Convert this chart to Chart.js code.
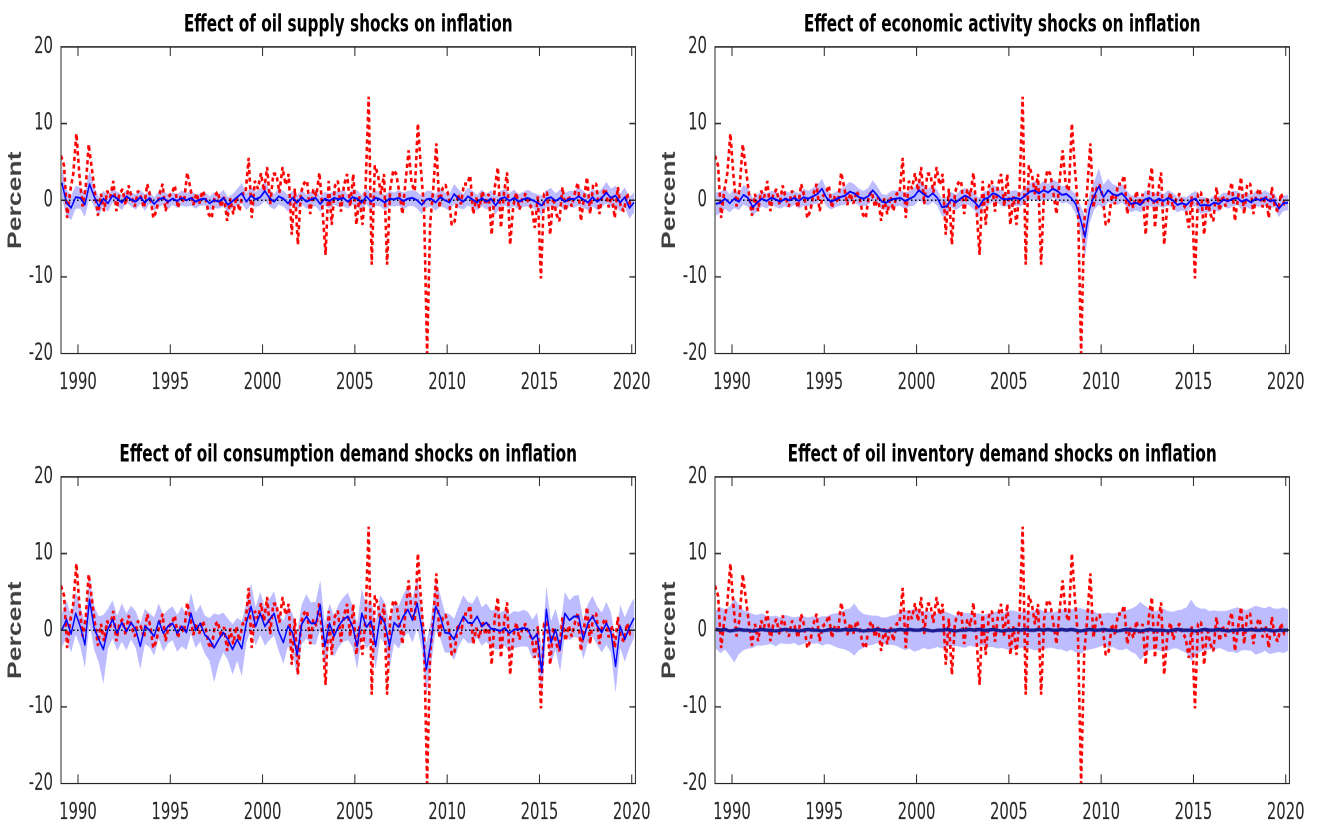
<!DOCTYPE html>
<html>
<head>
<meta charset="utf-8">
<script src="https://cdn.jsdelivr.net/npm/chart.js@4.4.1/dist/chart.umd.min.js"></script>
<style>
    html, body { margin: 0; padding: 0; background: #fff; width: 1324px; height: 830px; overflow: hidden; }
    /* the source figure is stretched vertically, so each panel is drawn flat and scaled */
    .panel { position: absolute; width: 662px; height: 296px; transform: scaleY(1.4); transform-origin: 0 0; }
</style>
</head>
<body>
<div class="panel" style="left:0;top:0"><canvas id="supplyChart" width="662" height="296"></canvas></div>
<div class="panel" style="left:654px;top:0"><canvas id="activityChart" width="662" height="296"></canvas></div>
<div class="panel" style="left:0;top:430px"><canvas id="consumptionChart" width="662" height="296"></canvas></div>
<div class="panel" style="left:654px;top:430px"><canvas id="inventoryChart" width="662" height="296"></canvas></div>
<script>
// Axis ranges and tick labels
const X_MIN = 1989.08;
const X_MAX = 2020.2;
const yearTicks = [1990, 1995, 2000, 2005, 2010, 2015, 2020];
const percentTicks = [-20, -10, 0, 10, 20];

// Inflation (red dotted), every two months from Feb 1989
const RED_START = 1989.08;
const inflation = [
    5.8, 4.5, -2.3, 1.2, 3.5, 8.7,      // 1989
    3.2, -0.8, 1.5, 7.3, 4.2, 1.0,      // 1990
    -2.0, 0.8, -1.4, 1.2, 0.4, 2.5,     // 1991
    -1.4, 0.9, 1.4, -0.6, 1.9, 0.3,     // 1992
    -0.8, 1.2, 0.4, -1.0, 2.1, 0.6,     // 1993
    -2.3, -1.4, 0.8, 2.1, -1.4, 0.5,    // 1994
    0.9, 1.9, -1.0, 0.6, -0.3, 3.6,     // 1995
    1.7, -0.6, 0.9, -0.4, 1.2, 0.3,     // 1996
    -1.8, -2.3, 0.6, 1.1, -0.9, 0.4,    // 1997
    -2.7, 0.2, -1.8, 0.5, -1.4, 0.8,    // 1998
    1.0, 5.5, -2.3, 2.5, 1.5, 3.5,      // 1999
    1.2, 4.3, -0.5, 3.4, 3.4, 1.0,      // 2000
    4.3, 2.0, 3.4, -4.5, 1.5, -5.8,     // 2001
    1.0, 2.2, 2.5, -1.8, 1.4, 0.6,      // 2002
    3.6, -1.2, -7.1, 2.5, -3.2, 1.8,    // 2003
    2.5, -1.5, 2.0, 3.4, -0.8, 3.4,     // 2004
    -3.2, 0.5, -3.2, 1.7, 13.5, -8.4,   // 2005
    4.5, 3.4, 0.8, 3.4, -8.4, 1.5,      // 2006
    3.9, 3.4, 0.9, -1.8, 2.5, 6.5,      // 2007
    2.1, 1.2, 10.0, 4.0, -1.0, -20.0,   // 2008
    -3.0, 1.5, 7.4, -1.0, 1.5, 2.0,     // 2009
    0.5, -3.2, -2.7, 0.8, -0.5, 2.1,    // 2010
    2.1, 3.2, -1.8, 0.3, -1.0, 1.2,     // 2011
    -0.6, 0.8, -4.5, 1.7, 4.3, -3.6,    // 2012
    1.0, 3.6, -5.8, -0.8, 1.0, -1.2,    // 2013
    0.3, 0.8, -0.4, -1.0, -3.6, 0.5,    // 2014
    -10.2, 0.8, 1.0, -4.5, 0.4, -1.8,   // 2015
    -2.7, 1.7, -1.4, 0.6, -0.8, 0.9,    // 2016
    2.3, -2.7, 0.3, 3.0, -1.8, 2.1,     // 2017
    2.1, -1.8, 0.8, 1.5, -0.9, 0.6,     // 2018
    -2.3, 1.7, -1.0, -1.4, 0.9, -0.5,   // 2019
    -0.5                                // 2020
];

// Estimated effects (blue) and band half-widths, quarterly from 1989 Q1
const Q_START = 1989.125;
const supplyMean = [
    2.3, -0.3, -1.0, 0.4,   0.3, -0.6, 2.1, 0.5,   -0.8, 0.2, -0.4, 0.6,   0.2, -0.3, 0.5, 0.1,
    -0.2, 0.4, -0.3, 0.3,   -0.5, 0.1, 0.3, -0.2,  0.2, -0.1, 0.3, 0.0,    0.3, -0.2, 0.1, 0.2,
    -0.4, 0.0, -0.2, 0.3,   -0.6, -0.1, 0.4, 0.9,  -0.2, 0.6, 0.1, 0.4,    1.2, 0.3, -0.2, 0.5,
    0.2, -0.4, 0.3, -0.3,   0.4, -0.2, 0.1, 0.3,   -0.5, 0.2, -0.1, 0.3,   0.1, 0.3, -0.2, 0.4,
    0.2, -0.3, 0.5, -0.2,   0.3, 0.1, -0.3, 0.2,   0.1, 0.3, -0.1, 0.2,    0.3, 0.0, -0.6, 0.1,
    0.2, -0.3, 0.4, 0.0,    -0.3, 0.8, 0.2, -0.2,  0.5, 0.1, -0.3, 0.3,    -0.2, 0.2, -0.7, 0.2,
    0.4, -0.1, 0.3, -0.2,   0.1, 0.3, 0.0, -0.3,   -0.7, 0.2, 0.4, -0.1,   0.3, -0.2, 0.2, 0.1,
    0.5, 0.1, -0.3, 0.4,    -0.2, 0.3, 1.0, 0.3,   0.6, -0.3, 0.4, -1.0,   -0.3
];
const supplyBand = [
    2.0, 1.7, 1.6, 1.5,   1.4, 1.6, 1.8, 1.3,   1.2, 1.0, 1.1, 0.9,   0.9, 1.0, 0.8, 0.9,
    1.0, 0.9, 1.1, 0.8,   0.9, 1.0, 0.9, 1.0,   0.8, 0.9, 1.0, 0.9,   1.0, 0.9, 0.8, 0.9,
    0.9, 1.0, 0.9, 1.1,   1.0, 0.9, 1.1, 1.3,   1.1, 1.2, 1.0, 1.1,   1.3, 1.1, 1.0, 1.1,
    1.0, 1.1, 0.9, 1.0,   1.0, 0.9, 1.0, 1.1,   1.0, 0.9, 1.0, 0.9,   1.0, 1.1, 0.9, 1.0,
    1.1, 1.0, 1.0, 1.1,   1.0, 0.9, 1.0, 1.0,   0.9, 1.0, 1.1, 1.0,   1.0, 1.1, 1.2, 1.1,
    1.0, 1.1, 1.2, 1.0,   1.1, 1.3, 1.2, 1.0,   1.2, 1.1, 1.0, 1.1,   1.0, 1.1, 1.2, 1.0,
    1.1, 1.0, 1.1, 1.0,   1.0, 1.1, 1.0, 1.1,   1.3, 1.1, 1.2, 1.0,   1.1, 1.2, 1.0, 1.1,
    1.2, 1.1, 1.0, 1.2,   1.1, 1.2, 1.4, 1.2,   1.3, 1.2, 1.3, 1.4,   1.3
];
const activityMean = [
    -0.5, -0.3, 0.2, -0.4,  0.2, -0.2, 0.7, 0.3,   -0.9, -0.3, 0.2, -0.1,  0.3, 0.1, -0.2, 0.2,
    0.0, 0.3, -0.1, 0.4,    0.2, 0.5, 0.8, 1.5,    0.3, -0.2, 0.1, 0.4,    0.6, 1.1, 0.9, 0.4,
    0.2, 0.5, 1.3, 0.6,     -0.2, -0.3, 0.1, 0.2,  0.3, -0.1, 0.2, 0.5,    1.3, 0.8, 0.4, 0.9,
    0.3, -0.9, -0.8, 0.1,   -0.3, 0.2, 0.6, 0.3,   -0.2, -0.9, 0.1, 0.3,   0.9, 0.7, 0.2, 0.1,
    0.2, 0.3, 0.1, 0.6,     1.1, 1.3, 0.9, 1.3,    1.0, 1.5, 1.2, 0.7,     0.8, 0.3, -0.5, -2.4,
    -4.8, -1.1, 0.6, 1.8,   0.4, 1.3, 0.8, 0.6,    0.9, 0.2, -0.5, -0.3,   -0.6, 0.1, 0.3, -0.2,
    0.2, -0.1, 0.3, 0.0,    -0.6, -0.4, -0.6, 0.0, 0.2, -0.7, -0.6, -0.7,  -0.3, -0.5, 0.1, -0.1,
    0.2, 0.3, -0.2, 0.1,    -0.3, 0.2, 0.0, 0.3,   -0.1, 0.0, -1.1, -0.4,  -0.3
];
const activityBand = [
    1.5, 1.4, 1.3, 1.2,   1.2, 1.1, 1.3, 1.2,   1.2, 1.1, 1.0, 1.0,   0.9, 1.0, 0.9, 1.0,
    1.0, 0.9, 1.0, 1.1,   1.0, 1.1, 1.2, 1.3,   1.1, 1.0, 1.0, 1.1,   1.2, 1.3, 1.2, 1.1,
    1.0, 1.1, 1.3, 1.2,   1.0, 1.0, 1.1, 1.0,   1.0, 1.1, 1.0, 1.2,   1.3, 1.2, 1.1, 1.1,
    1.0, 1.1, 1.2, 1.0,   1.0, 1.1, 1.0, 1.0,   1.1, 1.2, 1.0, 1.0,   1.1, 1.0, 1.0, 0.9,
    1.0, 1.0, 0.9, 1.0,   1.1, 1.2, 1.1, 1.2,   1.1, 1.2, 1.2, 1.1,   1.1, 1.0, 1.3, 1.8,
    2.6, 1.9, 1.8, 2.4,   1.6, 1.5, 1.3, 1.2,   1.2, 1.1, 1.1, 1.0,   1.0, 1.1, 1.0, 1.0,
    1.0, 0.9, 1.0, 1.0,   1.0, 0.9, 1.0, 0.9,   1.0, 1.1, 1.0, 0.9,   0.9, 1.0, 0.9, 1.0,
    1.0, 0.9, 1.0, 1.0,   0.9, 1.0, 0.9, 1.0,   1.0, 0.9, 1.1, 1.0,   1.0
];
const consumptionMean = [
    0.0, 1.4, -0.5, 2.2,    0.5, -1.9, 4.0, 0.3,   -1.2, -2.5, 0.2, 1.4,   -0.4, 1.0, -0.2, 1.0,
    0.1, -2.1, 0.5, 0.0,    -0.8, 1.2, -0.4, 0.5,  0.9, -0.4, 0.5, -0.3,   2.2, 0.0, 0.9, -0.6,
    -1.2, -2.3, -1.2, -0.3, -1.2, -2.5, -1.2, -2.4, 1.0, 3.1, 0.5, 2.2,    0.5, 1.4, 2.2, -0.2,
    -1.6, 0.5, -0.3, -3.2,  0.8, 1.8, 0.9, 0.9,    3.3, -2.1, 0.9, -0.8,   0.6, 1.4, 1.8, 0.5,
    -2.1, 2.2, 0.4, 1.2,    -2.1, 1.8, 0.9, -2.1,  1.0, 0.4, 1.8, 2.7,     1.3, 3.5, 0.3, -5.1,
    -1.5, 3.1, 1.8, -0.3,   -0.4, -1.2, 0.5, 1.8,  1.0, 0.9, 1.8, 0.5,     1.0, 0.2, 0.1, -0.1,
    0.3, -0.4, 0.1, 0.1,    0.3, 0.1, -1.2, -0.5,  -5.5, 2.7, -1.6, 0.1,   -2.5, 2.2, 1.3, 1.8,
    1.8, -1.2, 0.9, 1.8,    0.6, -0.3, 0.9, -0.3,  -4.7, 0.5, -1.2, 0.4,   1.6
];
const consumptionBand = [
    2.2, 2.5, 2.4, 2.8,   2.6, 3.0, 3.2, 2.8,   3.0, 4.5, 2.6, 2.5,   2.3, 2.5, 2.4, 2.2,
    2.4, 3.0, 2.3, 2.2,   2.5, 2.3, 2.4, 2.2,   2.2, 2.4, 2.6, 2.3,   2.7, 2.3, 2.4, 2.5,
    2.8, 4.5, 3.2, 2.6,   2.7, 3.3, 2.8, 3.6,   2.6, 3.0, 2.5, 2.8,   2.5, 2.7, 2.9, 2.5,
    2.8, 2.6, 2.5, 3.0,   2.6, 2.9, 2.7, 2.8,   3.2, 3.0, 2.6, 2.7,   2.8, 2.9, 3.1, 2.7,
    3.0, 3.2, 2.8, 2.9,   3.0, 2.8, 2.7, 3.0,   2.7, 2.8, 2.9, 3.0,   2.9, 3.2, 2.7, 3.4,
    3.0, 3.2, 2.9, 2.6,   2.5, 2.7, 2.6, 2.8,   2.7, 2.6, 2.8, 2.5,   2.5, 2.4, 2.6, 2.4,
    2.3, 2.5, 2.4, 2.3,   2.4, 2.3, 2.6, 2.8,   3.2, 3.0, 2.8, 2.7,   2.9, 2.8, 2.6, 2.7,
    2.8, 2.6, 2.5, 2.7,   2.5, 2.6, 2.8, 2.6,   3.5, 2.8, 2.9, 2.7,   2.6
];
const inventoryMean = [
    0.1, 0.0, 0.1, -0.1,   0.0, 0.1, 0.0, 0.0,   -0.1, 0.0, 0.1, 0.0,   0.0, -0.1, 0.0, 0.1,
    0.0, 0.0, -0.1, 0.0,   0.1, 0.0, 0.0, -0.1,  0.0, 0.1, 0.0, 0.0,    0.1, 0.0, 0.1, 0.0,
    -0.1, 0.0, 0.0, 0.1,   0.0, -0.1, 0.0, 0.0,  0.1, 0.0, 0.1, 0.0,    0.0, 0.1, 0.0, -0.1,
    0.0, 0.0, 0.1, 0.0,    -0.1, 0.0, 0.0, 0.1,  0.0, 0.1, 0.0, 0.0,    0.1, 0.0, -0.1, 0.0,
    0.0, 0.1, 0.0, 0.1,    0.0, 0.0, 0.1, 0.0,   0.1, 0.0, 0.0, 0.1,    0.0, 0.1, 0.0, -0.1,
    0.0, 0.1, 0.0, 0.0,    0.1, 0.0, 0.0, -0.1,  0.0, 0.1, 0.0, 0.0,    -0.1, 0.0, 0.1, 0.0,
    0.0, 0.0, -0.1, 0.0,   0.1, 0.0, 0.0, 0.0,   -0.1, 0.0, 0.1, 0.0,   0.0, 0.1, 0.0, -0.1,
    0.0, 0.0, 0.1, 0.0,    0.1, 0.0, 0.0, 0.1,   0.0, -0.1, 0.0, 0.0,   0.0
];
const inventoryBand = [
    2.5, 3.0, 2.6, 3.2,   4.2, 3.2, 2.6, 2.4,   2.2, 2.0, 2.1, 1.9,   1.8, 2.0, 1.7, 1.9,
    1.8, 1.7, 1.9, 1.8,   1.6, 1.8, 1.7, 1.9,   1.8, 2.0, 2.2, 2.4,   2.6, 2.8, 3.4, 2.6,
    2.2, 2.0, 1.9, 1.8,   1.7, 1.8, 1.9, 2.0,   2.4, 2.6, 2.5, 2.8,   2.6, 2.4, 2.5, 2.3,
    2.2, 2.4, 2.3, 2.1,   2.0, 2.2, 2.3, 2.1,   2.2, 2.1, 2.0, 2.2,   2.3, 2.4, 2.2, 2.5,
    2.6, 2.4, 2.3, 2.5,   2.4, 2.6, 2.7, 2.5,   2.4, 2.3, 2.5, 2.6,   2.8, 2.6, 2.9, 3.0,
    2.7, 2.6, 2.4, 2.2,   2.1, 2.3, 2.2, 2.4,   2.6, 2.5, 2.8, 3.1,   3.8, 3.2, 2.7, 2.5,
    2.6, 2.8, 2.6, 2.4,   2.5, 2.7, 3.0, 4.0,   3.2, 2.8, 2.7, 2.5,   2.6, 2.4, 2.5, 2.7,
    2.8, 3.0, 2.7, 2.6,   2.8, 3.2, 3.0, 2.8,   3.1, 2.9, 2.8, 3.0,   2.7
];

const NARROW = "'Liberation Sans Narrow', 'DejaVu Sans Condensed', 'Arial Narrow', sans-serif";
const REGULAR = "'Liberation Sans', Arial, sans-serif";
const INNER_H = 296;

// MATLAB-style box with inward tick marks on all four sides
const boxTicks = {
    id: 'boxTicks',
    afterDatasetsDraw(chart) {
        const { ctx, chartArea: a, scales: { x, y } } = chart;
        ctx.save();
        ctx.strokeStyle = '#262626';
        ctx.lineWidth = 1;
        ctx.beginPath();
        x.ticks.forEach(t => {
            const px = x.getPixelForValue(t.value);
            ctx.moveTo(px, a.bottom); ctx.lineTo(px, a.bottom - 6.5);
            ctx.moveTo(px, a.top); ctx.lineTo(px, a.top + 6.5);
        });
        y.ticks.forEach(t => {
            const py = y.getPixelForValue(t.value);
            ctx.moveTo(a.left, py); ctx.lineTo(a.left + 6, py);
            ctx.moveTo(a.right, py); ctx.lineTo(a.right - 6, py);
        });
        ctx.rect(a.left, a.top, a.right - a.left, a.bottom - a.top);
        ctx.stroke();
        ctx.restore();
    }
};

const panels = [
    { id: 'supplyChart', title: 'Effect of oil supply shocks on inflation', mean: supplyMean, band: supplyBand, color: '#0000ff', width: 1.4 },
    { id: 'activityChart', title: 'Effect of economic activity shocks on inflation', mean: activityMean, band: activityBand, color: '#0000ff', width: 1.4 },
    { id: 'consumptionChart', title: 'Effect of oil consumption demand shocks on inflation', mean: consumptionMean, band: consumptionBand, color: '#0000ff', width: 1.4 },
    { id: 'inventoryChart', title: 'Effect of oil inventory demand shocks on inflation', mean: inventoryMean, band: inventoryBand, color: '#1c1c90', width: 2.4 }
];

function buildPanel(p) {
    const redPoints = inflation.map((v, i) => ({ x: RED_START + i / 6, y: v }));
    const meanPoints = p.mean.map((v, i) => ({ x: Q_START + i / 4, y: v }));
    const upper = p.mean.map((v, i) => ({ x: Q_START + i / 4, y: v + p.band[i] }));
    const lower = p.mean.map((v, i) => ({ x: Q_START + i / 4, y: v - p.band[i] }));
    const line = { pointRadius: 0, tension: 0, borderJoinStyle: 'bevel' };

    new Chart(document.getElementById(p.id), {
        type: 'line',
        data: {
            datasets: [
                { ...line, data: upper, borderWidth: 0, borderColor: 'rgba(0,0,0,0)', backgroundColor: '#bcbcff', fill: 1, order: 10 },
                { ...line, data: lower, borderWidth: 0, borderColor: 'rgba(0,0,0,0)', fill: false, order: 11 },
                { ...line, data: redPoints, borderColor: '#ff0000', borderWidth: 2.6, borderDash: [3, 2.4], borderCapStyle: 'butt', fill: false, order: 5 },
                { ...line, data: [{ x: X_MIN, y: 0 }, { x: X_MAX, y: 0 }], borderColor: '#000', borderWidth: 1, borderDash: [1.5, 2.5], fill: false, order: 3 },
                { ...line, data: meanPoints, borderColor: p.color, borderWidth: p.width, borderJoinStyle: 'round', fill: false, order: 1 }
            ]
        },
        options: {
            responsive: false,
            animation: false,
            devicePixelRatio: 2,
            layout: { padding: { left: 0, right: 22, top: 0, bottom: 0 } },
            plugins: {
                legend: { display: false },
                tooltip: { enabled: false },
                title: {
                    display: true,
                    text: p.title,
                    fullSize: false,
                    color: '#000',
                    font: { family: NARROW, size: 17, weight: 'bold' },
                    padding: { top: 7.7, bottom: 5.4 }
                }
            },
            scales: {
                x: {
                    type: 'linear',
                    min: X_MIN,
                    max: X_MAX,
                    grid: { display: false, drawTicks: false },
                    border: { display: false },
                    ticks: {
                        color: '#262626',
                        font: { family: NARROW, size: 16.5 },
                        padding: 11.2,
                        maxRotation: 0,
                        autoSkip: false,
                        callback: v => String(v)
                    },
                    afterBuildTicks: s => { s.ticks = yearTicks.map(v => ({ value: v })); },
                    afterFit: s => { s.height = INNER_H - 252.5; }
                },
                y: {
                    min: -20,
                    max: 20,
                    grid: { display: false, drawTicks: false },
                    border: { display: false },
                    ticks: {
                        color: '#262626',
                        font: { family: NARROW, size: 16.5 },
                        padding: 8,
                        callback: v => String(v)
                    },
                    afterBuildTicks: s => { s.ticks = percentTicks.map(v => ({ value: v })); },
                    afterFit: s => { s.width = 61; },
                    title: {
                        display: true,
                        text: 'Percent',
                        color: '#404040',
                        font: { family: REGULAR, size: 19, weight: 'bold' },
                        padding: { top: 4.5, bottom: 0 }
                    }
                }
            }
        },
        plugins: [boxTicks]
    });
}

panels.forEach(buildPanel);
</script>
</body>
</html>
